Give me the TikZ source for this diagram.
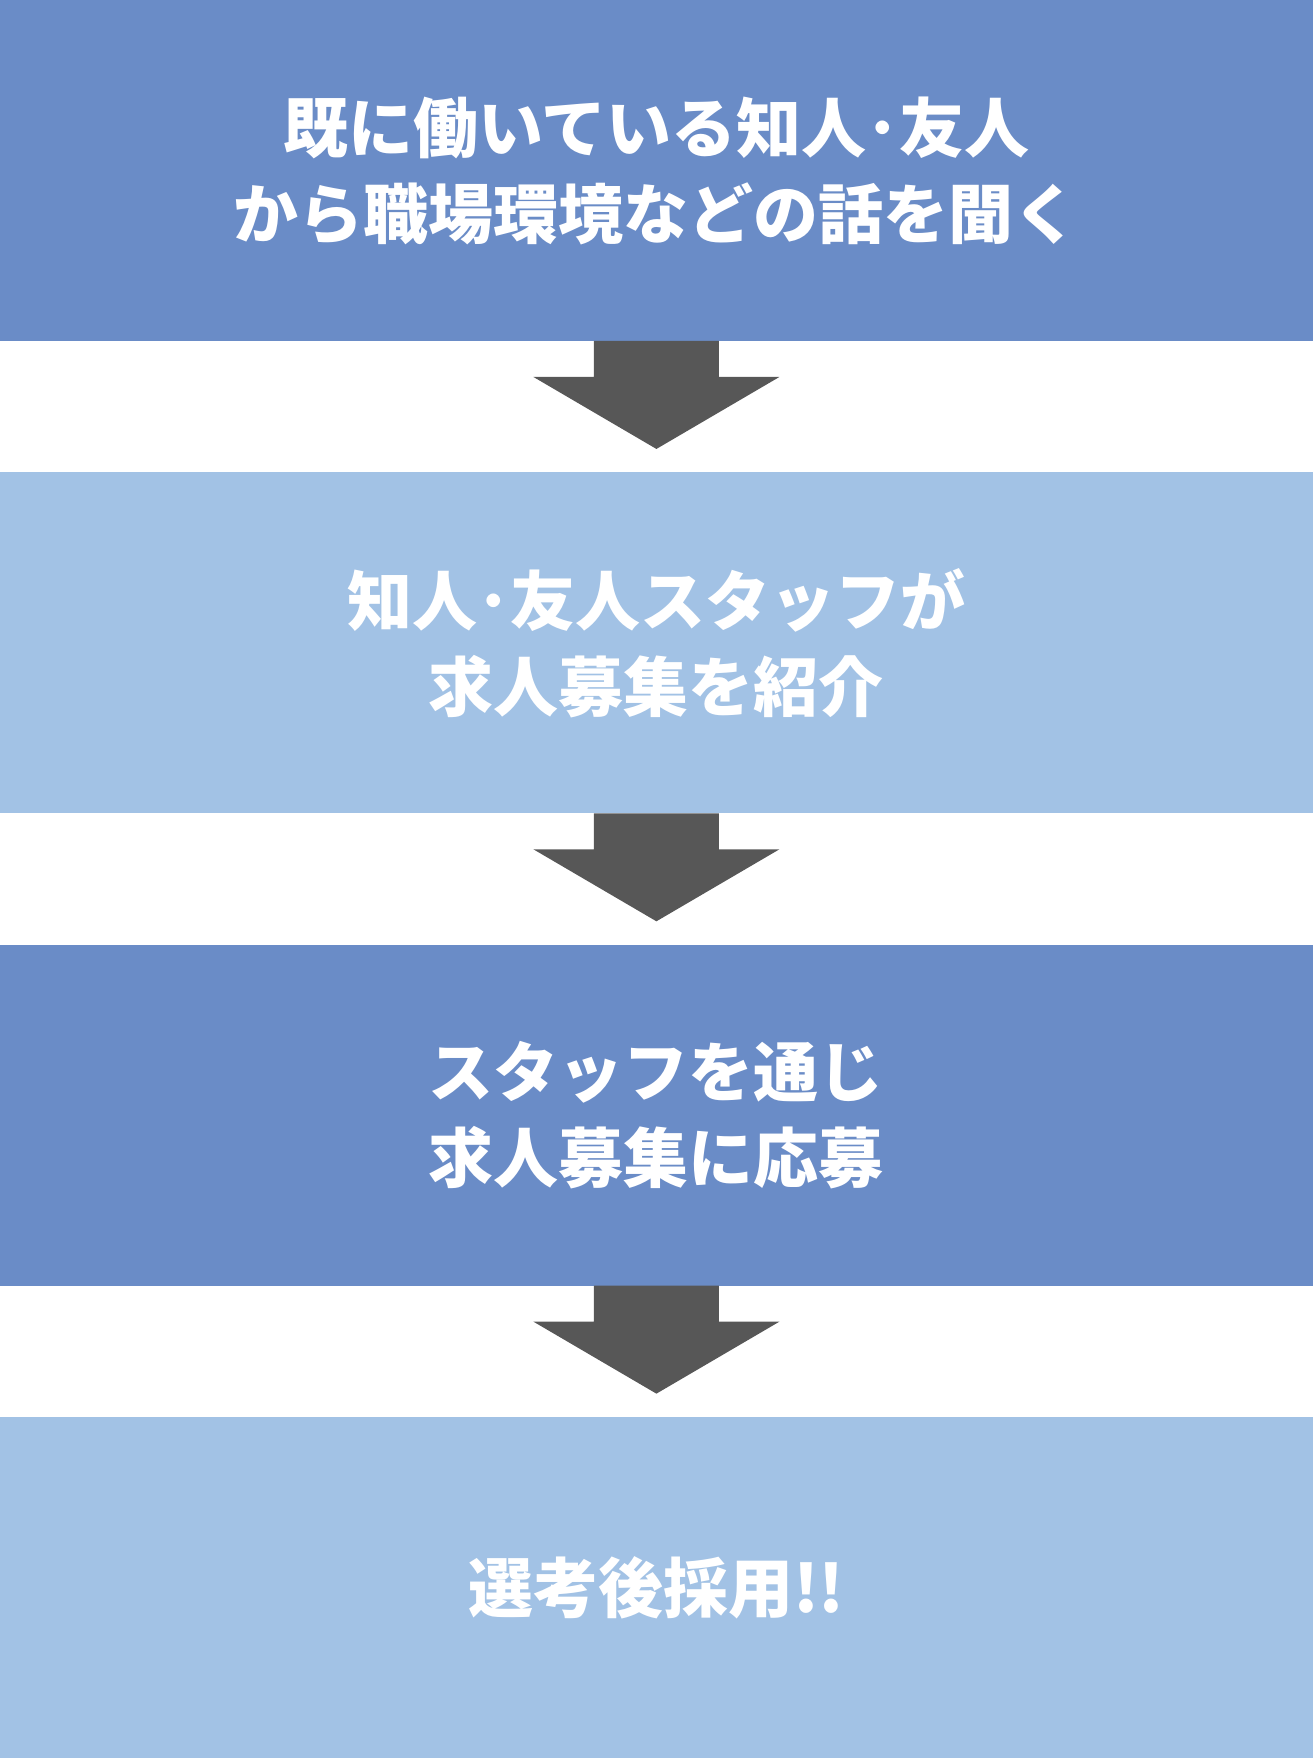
\documentclass[tikz,border=0pt]{standalone}
\usepackage{fontspec}
\newfontfamily\jpfont{Noto Sans CJK JP}
\usepackage{tikz}
\usetikzlibrary{calc,positioning}
\usepackage{xcolor}

\definecolor{stepdark}{HTML}{6A8CC7}
\definecolor{steplight}{HTML}{A2C2E5}
\definecolor{arrowgray}{HTML}{575757}

\begin{document}
\begin{tikzpicture}[
  flowbox/.style={minimum width=656.5pt, minimum height=170.5pt, inner sep=0pt, outer sep=0pt,
    text=white, align=center, font=\jpfont\bfseries\fontsize{32.5}{43}\selectfont},
  blockarrow/.style={fill=arrowgray, draw=none}]

% steps
\node[flowbox, fill=stepdark] (s1) {既に働いている知人･友人\\から職場環境などの話を聞く};
\node[flowbox, fill=steplight, below=65.7pt of s1] (s2) {知人･友人スタッフが\\求人募集を紹介};
\node[flowbox, fill=stepdark, below=65.7pt of s2] (s3) {スタッフを通じ\\求人募集に応募};
\node[flowbox, fill=steplight, below=65.7pt of s3] (s4) {選考後採用!!};

% arrows
\foreach \a/\b in {s1/s2, s2/s3, s3/s4}{
  \fill[blockarrow] ($(\a.south)+(-31.25pt,0)$) -- ($(\a.south)+(-31.25pt,-18pt)$)
    -- ($(\a.south)+(-61.5pt,-18pt)$) -- ($(\b.north)+(0,11.7pt)$)
    -- ($(\a.south)+(61.5pt,-18pt)$) -- ($(\a.south)+(31.25pt,-18pt)$)
    -- ($(\a.south)+(31.25pt,0)$) -- cycle;
}

\end{tikzpicture}
\end{document}
